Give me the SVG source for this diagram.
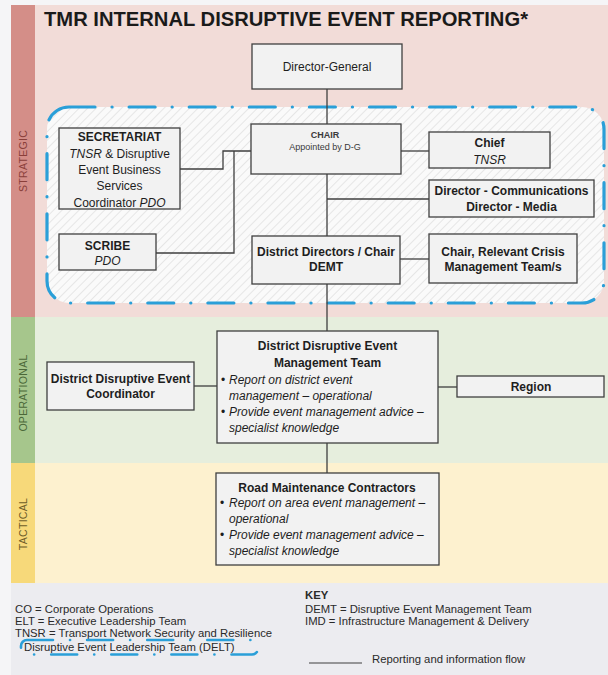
<svg xmlns="http://www.w3.org/2000/svg" width="608" height="675" viewBox="0 0 608 675">
  <defs>
    <!-- light diagonal hatching used inside the leadership-team boundary -->
    <pattern id="hatch" width="6" height="6" patternUnits="userSpaceOnUse" patternTransform="rotate(45)">
      <rect width="6" height="6" fill="#fafafa"/>
      <line x1="0" y1="0" x2="0" y2="6" stroke="#d9d9d9" stroke-width="1.2"/>
    </pattern>
  </defs>
  <style>
    .box{fill:#f2f2f2;stroke:#3f3f3f;stroke-width:1.3}
    .t{font-family:"Liberation Sans",Arial,sans-serif;font-size:12px;fill:#1e1e1e;text-anchor:middle}
    .b{font-weight:bold}
    .i{font-style:italic}
    .l{text-anchor:start}
    .sm{font-size:9px;fill:#3a3a3a}
    .conn{fill:none;stroke:#3f3f3f;stroke-width:1.3}
    .delt{fill:none;stroke:#2a9fd8;stroke-linecap:round;stroke-dasharray:26 17 0.1 17}
    .band{font-family:"Liberation Sans",Arial,sans-serif;font-size:10.5px;text-anchor:middle;letter-spacing:0.3px}
    .key{font-family:"Liberation Sans",Arial,sans-serif;font-size:11.3px;fill:#2a2a2a}
  </style>

  <!-- page background -->
  <rect width="608" height="675" fill="#f5f5f7"/>

  <!-- horizontal bands with coloured side strips -->
  <g id="bands">
    <rect x="11" y="5" width="597" height="312" fill="#f2dcd8"/>
    <rect x="11" y="5" width="24" height="312" fill="#d48e88"/>
    <rect x="11" y="317" width="597" height="146" fill="#e6eedd"/>
    <rect x="11" y="317" width="24" height="146" fill="#a6c68c"/>
    <rect x="11" y="463" width="597" height="120" fill="#fdf1cf"/>
    <rect x="11" y="463" width="24" height="120" fill="#f7d97a"/>
    <rect x="11" y="583" width="597" height="92" fill="#ececf0"/>
    <text class="band" transform="translate(26.7,161) rotate(-90)" fill="#8a3f3a">STRATEGIC</text>
    <text class="band" transform="translate(26.7,393) rotate(-90)" fill="#4b6838">OPERATIONAL</text>
    <text class="band" transform="translate(26.7,524) rotate(-90)" fill="#6e5c28">TACTICAL</text>
  </g>

  <!-- heading -->
  <text x="44" y="26" font-family="'Liberation Sans',Arial,sans-serif" font-size="20" font-weight="bold" fill="#1a1a1a" textLength="484" lengthAdjust="spacingAndGlyphs">TMR INTERNAL DISRUPTIVE EVENT REPORTING*</text>

  <!-- Disruptive Event Leadership Team boundary -->
  <rect x="47" y="107" width="557" height="196" rx="22" fill="url(#hatch)"/>
  <rect x="47" y="107" width="557" height="196" rx="22" class="delt" stroke-width="3.2"/>

  <!-- reporting lines -->
  <g id="connectors">
    <path class="conn" d="M327 89V124"/>
    <path class="conn" d="M180 169H223V151H251"/>
    <path class="conn" d="M156 253H234V151"/>
    <path class="conn" d="M401 151H429"/>
    <path class="conn" d="M327 174V236"/>
    <path class="conn" d="M327 199H429"/>
    <path class="conn" d="M400 259H429"/>
    <path class="conn" d="M327 284V331"/>
    <path class="conn" d="M194 386H217"/>
    <path class="conn" d="M438 387H457"/>
    <path class="conn" d="M327 443V473"/>
  </g>

  <g id="director-general">
    <rect class="box" x="252" y="44" width="150" height="45"/>
    <text class="t" x="327" y="70.5" font-size="11">Director-General</text>
  </g>

  <g id="chair">
    <rect class="box" x="251" y="124" width="150" height="50"/>
    <text class="t sm b" x="325" y="138">CHAIR</text>
    <text class="t sm" x="325" y="149.5">Appointed by D-G</text>
  </g>

  <g id="secretariat">
    <rect class="box" x="59" y="128" width="121" height="81"/>
    <text class="t b" x="119.5" y="141">SECRETARIAT</text>
    <text class="t" x="119.5" y="157.5"><tspan class="i">TNSR</tspan> &amp; Disruptive</text>
    <text class="t" x="119.5" y="174">Event Business</text>
    <text class="t" x="119.5" y="190">Services</text>
    <text class="t" x="119.5" y="206.5">Coordinator <tspan class="i">PDO</tspan></text>
  </g>

  <g id="scribe">
    <rect class="box" x="59" y="234" width="97" height="36"/>
    <text class="t b" x="107.5" y="250">SCRIBE</text>
    <text class="t i" x="107.5" y="265">PDO</text>
  </g>

  <g id="chief">
    <rect class="box" x="429" y="132" width="121" height="36"/>
    <text class="t b" x="489.5" y="147">Chief</text>
    <text class="t i" x="489.5" y="164">TNSR</text>
  </g>

  <g id="directors-comms-media">
    <rect class="box" x="429" y="180" width="165" height="37"/>
    <text class="t b" x="511.5" y="195">Director - Communications</text>
    <text class="t b" x="511.5" y="211">Director - Media</text>
  </g>

  <g id="district-directors">
    <rect class="box" x="252" y="236" width="148" height="48"/>
    <text class="t b" x="326" y="256">District Directors / Chair</text>
    <text class="t b" x="326" y="271">DEMT</text>
  </g>

  <g id="crisis-management">
    <rect class="box" x="429" y="234" width="148" height="49"/>
    <text class="t b" x="503" y="256">Chair, Relevant Crisis</text>
    <text class="t b" x="503" y="271">Management Team/s</text>
  </g>

  <g id="district-coordinator">
    <rect class="box" x="47" y="362" width="147" height="48"/>
    <text class="t b" x="120.5" y="383">District Disruptive Event</text>
    <text class="t b" x="120.5" y="398">Coordinator</text>
  </g>

  <g id="district-demt">
    <rect class="box" x="217" y="331" width="221" height="112"/>
    <text class="t b" x="327.5" y="350">District Disruptive Event</text>
    <text class="t b" x="327.5" y="367">Management Team</text>
    <text class="t l" x="221" y="384" font-size="9">•</text>
    <text class="t i l" x="229" y="384">Report on district event</text>
    <text class="t i l" x="229" y="400">management – operational</text>
    <text class="t l" x="221" y="416" font-size="9">•</text>
    <text class="t i l" x="229" y="416">Provide event management advice –</text>
    <text class="t i l" x="229" y="432">specialist knowledge</text>
  </g>

  <g id="region">
    <rect class="box" x="457" y="376" width="147" height="21"/>
    <text class="t b" x="531" y="391">Region</text>
  </g>

  <g id="road-maintenance">
    <rect class="box" x="216" y="473" width="223" height="92"/>
    <text class="t b" x="327" y="492">Road Maintenance Contractors</text>
    <text class="t l" x="220" y="507" font-size="9">•</text>
    <text class="t i l" x="229" y="507">Report on area event management –</text>
    <text class="t i l" x="229" y="523">operational</text>
    <text class="t l" x="220" y="539" font-size="9">•</text>
    <text class="t i l" x="229" y="539">Provide event management advice –</text>
    <text class="t i l" x="229" y="555">specialist knowledge</text>
  </g>

  <!-- key -->
  <g id="key">
    <text class="key" x="15" y="613">CO = Corporate Operations</text>
    <text class="key" x="15" y="625">ELT = Executive Leadership Team</text>
    <text class="key" x="15" y="637">TNSR = Transport Network Security and Resilience</text>
    <rect x="21" y="640" width="237" height="14.5" rx="6" class="delt" stroke-width="2.6"/>
    <text class="key" x="24" y="651">Disruptive Event Leadership Team (DELT)</text>
    <text class="key" x="305" y="599" font-weight="bold" font-size="10.5">KEY</text>
    <text class="key" x="305" y="613">DEMT = Disruptive Event Management Team</text>
    <text class="key" x="305" y="625">IMD = Infrastructure Management &amp; Delivery</text>
    <line x1="309" y1="663" x2="362" y2="663" stroke="#3f3f3f" stroke-width="1.2"/>
    <text class="key" x="372" y="663">Reporting and information flow</text>
  </g>
</svg>
